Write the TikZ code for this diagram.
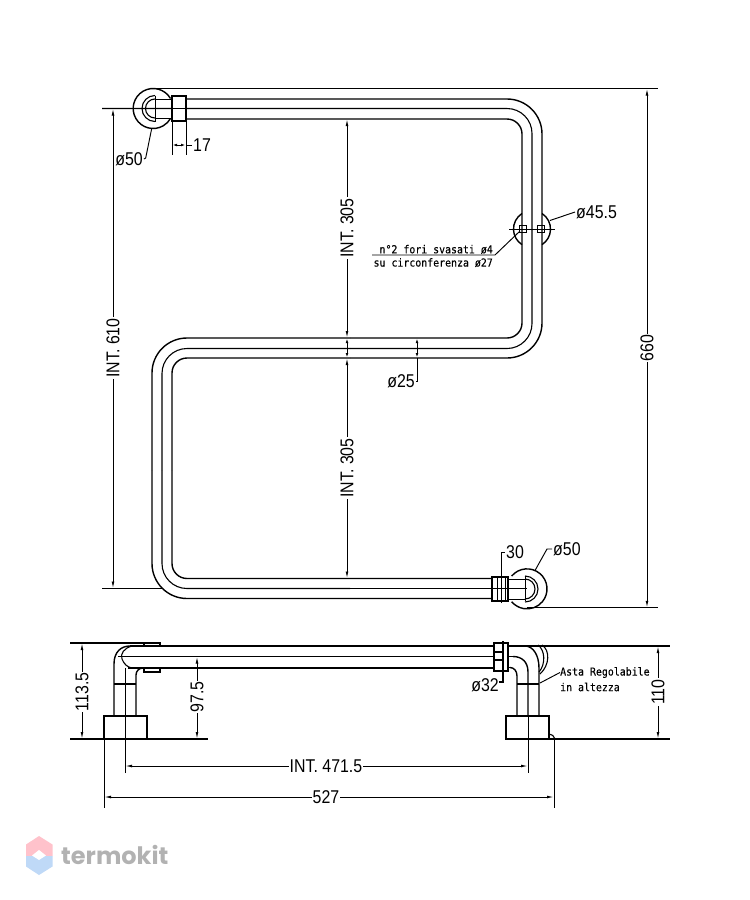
\documentclass[tikz,border=0pt]{standalone}
\usepackage{fontspec}
\setmainfont[FakeStretch=0.86]{Liberation Sans}
\newfontfamily\cadmono[FakeStretch=0.9,FakeBold=0.25]{DejaVu Sans Mono}
\newfontfamily\logofont{Poppins}
\usetikzlibrary{arrows.meta}
\definecolor{logored}{HTML}{FFC2CB}
\definecolor{logoblue}{HTML}{BFD9F7}
\definecolor{logogray}{HTML}{B2B2B2}
\tikzset{
  pipeline/.style={line width=1.4pt,black},
  midline/.style={line width=1.1pt,black},
  thinline/.style={line width=.95pt,black},
  dimline/.style={line width=.95pt,black,{Latex[length=7pt,width=2.8pt]}-{Latex[length=7pt,width=2.8pt]}},
  shortdim/.style={line width=.95pt,black,{Latex[length=5pt,width=2.6pt]}-{Latex[length=5pt,width=2.6pt]}},
  dimlabel/.style={font=\fontsize{18.5}{18.5}\selectfont,inner sep=1pt,text=black},
  vlabel/.style={dimlabel,rotate=90,fill=white},
  hlabel/.style={dimlabel,fill=white},
  note/.style={font=\cadmono\fontsize{11}{11}\selectfont,inner sep=0pt,text=black}
}
\begin{document}
\begin{tikzpicture}[x=1pt,y=-1pt]
\useasboundingbox (0,0) rectangle (750,900);
% ---- front view: pipe
\draw[pipeline,rounded corners=35pt] (186,99) -| (542,230);
\draw[pipeline,rounded corners=35pt] (542,230) |- (350,358);
\draw[pipeline,rounded corners=15pt] (350,358) -| (172,470);
\draw[pipeline,rounded corners=15pt] (172,470) |- (492,578.5);
\draw[pipeline,rounded corners=15pt] (186,119) -| (522,230);
\draw[pipeline,rounded corners=15pt] (522,230) |- (350,338);
\draw[pipeline,rounded corners=35pt] (350,338) -| (152,470);
\draw[pipeline,rounded corners=35pt] (152,470) |- (492,598.5);
\draw[midline,rounded corners=25pt] (102,108.5) -| (532,230);
\draw[midline,rounded corners=25pt] (532,230) |- (350,348.5);
\draw[midline,rounded corners=25pt] (350,348.5) -| (162,470);
\draw[midline,rounded corners=25pt] (162,470) |- (350,588.5);
\draw[midline] (350,588.5) -- (527,588.5);
\draw[thinline] (102,588.5) -- (162,588.5);
% top-left bracket
\draw[pipeline] (170.5,98.5) arc[start angle=30,end angle=330,radius=20pt];
\draw[midline] (155,95.5) arc[start angle=90,end angle=270,radius=13pt];
\draw[midline] (155,99) arc[start angle=90,end angle=270,radius=9.5pt];
\draw[thinline] (155,95.5) -- (155,121.5);
\draw[thinline] (155,99) -- (172,99) (155,118.5) -- (172,118.5);
\draw[midline,fill=white] (172,96) rectangle (186,121);
\draw[midline] (172,108.5) -- (186,108.5);
% bottom-right bracket
\draw[pipeline] (511.7,576) arc[start angle=140,end angle=-140,radius=20pt];
\draw[midline] (525,576) arc[start angle=90,end angle=-90,radius=13pt];
\draw[midline] (525,579) arc[start angle=90,end angle=-90,radius=10pt];
\draw[thinline] (525,576) -- (525,601);
\draw[thinline] (507,579) -- (525,579) (507,599) -- (525,599);
\draw[midline,fill=white] (492,577) rectangle (508,601);
\draw[midline] (492,588.5) -- (508,588.5);
\draw[thinline] (497,577) -- (497,601) (505,577) -- (505,601);
% central bracket
\draw[pipeline] (522,213.5) arc[start angle=122.7,end angle=237.3,radius=18.5pt];
\draw[pipeline] (542,213.5) arc[start angle=57.3,end angle=-57.3,radius=18.5pt];
\draw[thinline] (509,229) -- (555,229);
\draw[midline] (519.5,225.5) rectangle (526.5,232.5);
\draw[midline] (537.5,225.5) rectangle (544.5,232.5);
% extension lines
\draw[thinline] (155,88.5) -- (658,88.5);
\draw[thinline] (527,607.8) -- (658,607.8);
\draw[thinline] (172,121) -- (172,155) (186,121) -- (186,155);
% front-view dimensions
\coordinate (a610t) at (113,108.5); \coordinate (a610b) at (113,588.5);
\draw[dimline] (a610t) -- (a610b);
\node[vlabel] (l610) at (113,348) {INT. 610};
\coordinate (a660t) at (647,88.5); \coordinate (a660b) at (647,607.8);
\draw[dimline] (a660t) -- (a660b);
\node[vlabel] (l660) at (647,348) {660};
\coordinate (c1) at (347,119); \coordinate (c2) at (347,338);
\coordinate (c3) at (347,358); \coordinate (c4) at (347,578.5);
\draw[dimline] (c1) -- (c2);
\draw[dimline] (c3) -- (c4);
\draw[shortdim] (c2) -- (c3);
\node[vlabel] (l305a) at (347,228) {INT. 305};
\node[vlabel] (l305b) at (347,468) {INT. 305};
\node[dimlabel] (l25) at (401,381) {ø25};
\coordinate (d25a) at (417,338); \coordinate (d25b) at (417,358); \coordinate (d25c) at (417,381);
\draw[shortdim] (d25a) -- (d25b);
\draw[thinline] (d25b) -- (d25c) -- (l25.east);
\coordinate (d17a) at (172,145); \coordinate (d17b) at (186,145);
\draw[shortdim] (d17a) -- (d17b);
\node[dimlabel,anchor=west] (l17) at (192,145) {17};
\draw[thinline] (d17b) -- (l17.west);
\node[dimlabel] (l50a) at (129,159) {ø50};
\coordinate (q1) at (151.7,128.5); \coordinate (q2) at (145.7,158);
\draw[thinline] (q1) -- (q2) -- (l50a.east);
\node[dimlabel,anchor=west] (l30) at (505,552) {30};
\coordinate (r1) at (501,603); \coordinate (r2) at (501,552);
\draw[thinline] (r1) -- (r2) -- (l30.west);
\node[dimlabel,anchor=west] (l50b) at (552,549) {ø50};
\coordinate (s1) at (535,570.5); \coordinate (s2) at (547,549);
\draw[thinline] (s1) -- (s2) -- (l50b.west);
\node[dimlabel,anchor=west] (l455) at (575,212) {ø45.5};
\coordinate (t1) at (550,220.5);
\draw[thinline] (t1) -- (l455.west);
\node[note,anchor=south east] (n1) at (493,254) {n°2 fori svasati ø4};
\node[note,anchor=north east] (n2) at (493,258) {su circonferenza ø27};
\coordinate (n0) at (372,255); \coordinate (n3) at (495,255); \coordinate (n4) at (520,231);
\draw[thinline] (n0) -- (n3) -- (n4);
% ---- bottom view
\draw[pipeline] (130,646) -- (494,646);
\draw[pipeline] (118,656.5) -- (494,656.5);
\draw[pipeline] (128,668) -- (494,668);
\draw[pipeline] (508,646) -- (670,646);
\draw[pipeline] (508,656.5) -- (513,656.5);
\draw[pipeline] (508,667.5) -- (510,667.5);
% left elbow
\draw[pipeline] (114,716) -- (114,664) .. controls (114,652) and (121,646) .. (130,646);
\draw[thinline] (125,773) -- (125,668);
\draw[midline] (132,646) .. controls (124,648) and (120,654) .. (122,659) .. controls (124,664) and (127,667) .. (132,668);
\draw[pipeline] (136,716) -- (136,675) .. controls (136,671) and (139,668) .. (143,668);
\draw[midline] (114,684) -- (136,684);
\draw[midline] (144,643) rectangle (160,646);
\draw[midline] (144,668) rectangle (160,672);
\draw[pipeline] (70,643) -- (160,643);
\draw[midline,fill=white] (104,716) rectangle (147,739);
\draw[thinline] (125,716) -- (125,739);
\draw[thinline] (104,739) -- (104,808);
\draw[pipeline] (70,739) -- (208,739);
\coordinate (h1t) at (82,643); \coordinate (h1b) at (82,739);
\draw[dimline] (h1t) -- (h1b);
\node[vlabel] (l1135) at (82,692) {113.5};
\coordinate (h2t) at (197,656.5); \coordinate (h2b) at (197,739);
\draw[dimline] (h2t) -- (h2b);
\node[vlabel] (l975) at (197,697) {97.5};
% right elbow
\draw[midline] (494,643) rectangle (508,671);
\draw[midline] (503,641) -- (503,682) -- (499,682);
\draw[midline] (494,652) -- (503,652) (494,660) -- (503,660);
\node[dimlabel] (l32) at (485,685) {ø32};
\draw[pipeline] (513,656.5) .. controls (522,656.5) and (528,662) .. (528,672) -- (528,716);
\draw[thinline] (528,716) -- (528,773);
\draw[pipeline] (510,667.5) .. controls (514,667.5) and (517,671) .. (517,676) -- (517,716);
\draw[pipeline] (525,646) .. controls (533,646) and (539,655) .. (539,668) -- (539,716);
\draw[midline] (517,684) -- (539,684);
\draw[midline] (538,645) .. controls (545,650) and (546,664) .. (539,672);
\draw[midline] (542,645) .. controls (550,650) and (550,665) .. (540,674);
\draw[midline,fill=white] (506,716) rectangle (549,739);
\draw[thinline] (528,716) -- (528,773);
\draw[pipeline] (550,739) -- (670,739);
\draw[midline] (549,734) .. controls (552,734) and (554,736) .. (555,739);
\draw[thinline] (554,739) -- (554,808);
\node[note,anchor=west] (as1) at (560,672.5) {Asta Regolabile};
\node[note,anchor=west] (as2) at (560,687) {in altezza};
\coordinate (u1) at (540,683);
\draw[thinline] (u1) -- (as1.west);
\coordinate (v1t) at (658,646); \coordinate (v1b) at (658,739);
\draw[dimline] (v1t) -- (v1b);
\node[vlabel] (l110) at (658,692) {110};
\coordinate (w1a) at (125,766); \coordinate (w1b) at (528,766);
\draw[dimline] (w1a) -- (w1b);
\node[hlabel] (l4715) at (326,766) {INT. 471.5};
\coordinate (w2a) at (104,797); \coordinate (w2b) at (554,797);
\draw[dimline] (w2a) -- (w2b);
\node[hlabel] (l527) at (326,797) {527};
% ---- logo
\fill[logored] (39,836) -- (52.5,844.5) -- (52.5,856) -- (26,856) -- (26,844.5) -- cycle;
\fill[logoblue] (39,875) -- (52.5,866.5) -- (52.5,856) -- (26,856) -- (26,866.5) -- cycle;
\fill[white] (39,850) -- (46,855.5) -- (39,860) -- (32,855.5) -- cycle;
\node[font=\logofont\bfseries\fontsize{24}{24}\selectfont,text=logogray,anchor=west,inner sep=0pt] (logo) at (61,855) {termokit};
\end{tikzpicture}
\end{document}
